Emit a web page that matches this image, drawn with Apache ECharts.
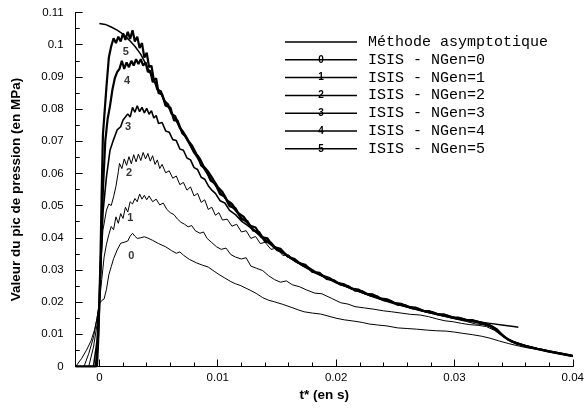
<!DOCTYPE html>
<html>
<head>
<meta charset="utf-8">
<script src="https://cdn.jsdelivr.net/npm/echarts@6/dist/echarts.min.js"></script>
<style>html,body{margin:0;padding:0;background:#fff}#c{width:587px;height:408px}</style>
</head>
<body>
<div id="c"></div>
<script>
// ---------- data ----------
const seriesNames = ['Méthode asymptotique','ISIS - NGen=0','ISIS - NGen=1','ISIS - NGen=2','ISIS - NGen=3','ISIS - NGen=4','ISIS - NGen=5'];

const asymptotic = [[0.0000,0.1066],[0.0005,0.1063],[0.001,0.1055],[0.0015,0.1045],[0.002,0.1033],[0.0025,0.1015],[0.003,0.0995],[0.0035,0.097],[0.004,0.0935],[0.0045,0.0895],[0.005,0.086],[0.006,0.0795],[0.007,0.073],[0.008,0.0665],[0.009,0.0605],[0.01,0.0552],[0.011,0.0505],[0.012,0.0463],[0.013,0.0427],[0.014,0.0396],[0.015,0.0367],[0.016,0.034],[0.017,0.0317],[0.018,0.0296],[0.019,0.0278],[0.02,0.0262],[0.021,0.0247],[0.022,0.0233],[0.023,0.022],[0.024,0.0208],[0.025,0.0197],[0.026,0.0187],[0.027,0.0177],[0.028,0.0168],[0.029,0.016],[0.03,0.0152],[0.031,0.0145],[0.032,0.0139],[0.033,0.0134],[0.034,0.0129],[0.035,0.0124],[0.0354,0.0122]];

const ngen0 = [[-0.002,0],[-0.0019,0],[-0.0015,0.0025],[-0.0011,0.005],[-0.0007,0.008],[-0.0004,0.0115],[-0.0002,0.015],[0,0.0195],[0.0002,0.0205],[0.0004,0.021],[0.0006,0.024],[0.0008,0.0285],[0.001,0.031],[0.0012,0.0335],[0.0015,0.0362],[0.0018,0.0383],[0.0021,0.0386],[0.0024,0.039],[0.0026,0.0405],[0.0028,0.0414],[0.003,0.0405],[0.0032,0.0398],[0.0035,0.04],[0.0038,0.0403],[0.0041,0.0399],[0.0045,0.0392],[0.005,0.0382],[0.0056,0.0372],[0.0061,0.036],[0.0065,0.0352],[0.0068,0.0356],[0.0071,0.0346],[0.0076,0.0333],[0.0082,0.0322],[0.0087,0.0315],[0.0092,0.0309],[0.0097,0.0296],[0.0101,0.0286],[0.0106,0.0275],[0.0111,0.0264],[0.0115,0.0257],[0.0119,0.0252],[0.0124,0.0243],[0.0128,0.0236],[0.0133,0.0226],[0.0138,0.0214],[0.0143,0.0206],[0.0148,0.0201],[0.0155,0.0193],[0.0162,0.0184],[0.0168,0.0176],[0.0173,0.017],[0.018,0.0166],[0.0187,0.0163],[0.0194,0.0156],[0.02,0.015],[0.0207,0.0145],[0.0215,0.0141],[0.0222,0.0137],[0.0228,0.0132],[0.0235,0.0129],[0.0243,0.0126],[0.0252,0.012],[0.026,0.0118],[0.0268,0.0116],[0.0277,0.0113],[0.0285,0.0111],[0.0293,0.011],[0.03,0.0107],[0.0307,0.0103],[0.0315,0.0099],[0.0323,0.0094],[0.033,0.0088],[0.0338,0.0079],[0.0346,0.0071],[0.0355,0.0063],[0.0363,0.0057],[0.0372,0.0052],[0.0381,0.0045],[0.039,0.0039],[0.04,0.0032]];

const ngen1 = [[-0.002,0],[-0.0013,0],[-0.0009,0.004],[-0.0005,0.009],[-0.0002,0.015],[0,0.02],[0.0002,0.027],[0.0004,0.034],[0.0006,0.038],[0.0008,0.041],[0.001,0.0435],[0.0012,0.0425],[0.0014,0.0465],[0.0016,0.0445],[0.0018,0.0475],[0.002,0.046],[0.0022,0.0495],[0.0024,0.048],[0.0026,0.0512],[0.0028,0.0505],[0.003,0.0522],[0.0032,0.0512],[0.0034,0.0536],[0.0036,0.052],[0.0038,0.0532],[0.004,0.0518],[0.0042,0.053],[0.0045,0.0512],[0.0048,0.052],[0.0051,0.0502],[0.0054,0.0508],[0.0057,0.0488],[0.006,0.0478],[0.0063,0.0472],[0.0066,0.0458],[0.0069,0.0448],[0.0072,0.0442],[0.0075,0.0434],[0.0078,0.0438],[0.0081,0.0422],[0.0085,0.0414],[0.0088,0.0418],[0.0091,0.0398],[0.0095,0.0385],[0.0099,0.0372],[0.0103,0.0364],[0.0107,0.0368],[0.0111,0.0348],[0.0115,0.034],[0.012,0.0334],[0.0124,0.0338],[0.0128,0.0312],[0.0133,0.0305],[0.0138,0.0298],[0.0143,0.0282],[0.0148,0.027],[0.0153,0.0262],[0.0158,0.0266],[0.0163,0.0254],[0.0169,0.0248],[0.0175,0.0238],[0.0182,0.0228],[0.0188,0.0226],[0.0196,0.0212],[0.0204,0.0198],[0.021,0.0194],[0.0216,0.0186],[0.0224,0.0182],[0.0232,0.0178],[0.024,0.0173],[0.0247,0.017],[0.0255,0.0166],[0.0263,0.0162],[0.0271,0.016],[0.0278,0.0155],[0.0285,0.0148],[0.0292,0.0142],[0.0299,0.0139],[0.0306,0.0134],[0.0313,0.013],[0.032,0.0128],[0.0327,0.0124],[0.0334,0.0112],[0.034,0.0095],[0.0346,0.0083],[0.0353,0.0073],[0.036,0.0065],[0.037,0.0056],[0.038,0.0047],[0.039,0.004],[0.04,0.0032]];

const ngen2 = [[-0.002,0],[-0.0009,0],[-0.0005,0.006],[-0.0002,0.013],[0,0.02],[0.0001,0.03],[0.0003,0.0424],[0.0006,0.0486],[0.0008,0.0505],[0.001,0.05],[0.0012,0.0527],[0.0014,0.056],[0.0016,0.0605],[0.0017,0.0631],[0.0019,0.0615],[0.0021,0.0645],[0.0023,0.0625],[0.0025,0.0652],[0.0027,0.063],[0.0029,0.0658],[0.0031,0.0636],[0.0033,0.066],[0.0035,0.064],[0.0037,0.0665],[0.0039,0.0645],[0.0041,0.0662],[0.0043,0.0638],[0.0045,0.0655],[0.0047,0.0628],[0.0049,0.0642],[0.0051,0.0615],[0.0053,0.0628],[0.0056,0.0602],[0.0059,0.0608],[0.0062,0.0585],[0.0065,0.0592],[0.0068,0.0565],[0.0071,0.0572],[0.0074,0.0548],[0.0077,0.0558],[0.008,0.053],[0.0083,0.0538],[0.0086,0.051],[0.0089,0.0518],[0.0092,0.0488],[0.0095,0.0495],[0.0098,0.047],[0.0101,0.0478],[0.0104,0.0455],[0.0108,0.0458],[0.0112,0.0436],[0.0116,0.0442],[0.012,0.0418],[0.0124,0.0422],[0.0128,0.0398],[0.0132,0.0404],[0.0136,0.0382],[0.014,0.0386],[0.0145,0.0364],[0.015,0.0368],[0.0155,0.0345],[0.016,0.0347],[0.0165,0.0326],[0.017,0.0322],[0.0176,0.0306],[0.0182,0.0292],[0.0188,0.0284],[0.0195,0.0271],[0.0202,0.0258],[0.021,0.0245],[0.022,0.0231],[0.023,0.0218],[0.024,0.0206],[0.025,0.0195],[0.026,0.0184],[0.027,0.0175],[0.028,0.0165],[0.029,0.0157],[0.03,0.0148],[0.031,0.014],[0.0318,0.0132],[0.0325,0.013],[0.033,0.0124],[0.0336,0.0108],[0.0342,0.0092],[0.0348,0.008],[0.0356,0.007],[0.0365,0.006],[0.0375,0.0051],[0.0387,0.0042],[0.04,0.0033]];

const ngen3 = [[-0.002,0],[-0.0005,0],[-0.0002,0.008],[0,0.02],[0.0001,0.03],[0.0003,0.0477],[0.0006,0.059],[0.0009,0.0672],[0.0012,0.0705],[0.0015,0.0735],[0.0018,0.0745],[0.002,0.0766],[0.0022,0.0775],[0.0024,0.0785],[0.0026,0.0775],[0.0028,0.0805],[0.003,0.079],[0.0032,0.081],[0.0034,0.0792],[0.0036,0.0805],[0.0038,0.0788],[0.004,0.0802],[0.0042,0.0784],[0.0044,0.0795],[0.0046,0.0772],[0.0048,0.078],[0.005,0.0755],[0.0053,0.0758],[0.0056,0.0732],[0.0059,0.0728],[0.0062,0.0705],[0.0065,0.0702],[0.0068,0.0676],[0.0071,0.0672],[0.0074,0.0648],[0.0077,0.0642],[0.008,0.0618],[0.0083,0.0612],[0.0086,0.0588],[0.0089,0.0582],[0.0092,0.0562],[0.0095,0.0548],[0.0098,0.0538],[0.0102,0.0515],[0.0106,0.0508],[0.011,0.0485],[0.0115,0.0472],[0.012,0.0452],[0.0126,0.0436],[0.0132,0.0418],[0.0138,0.0398],[0.0145,0.0378],[0.0152,0.0362],[0.016,0.034],[0.0168,0.0322],[0.0176,0.0305],[0.0184,0.0288],[0.0192,0.0275],[0.02,0.026],[0.021,0.0246],[0.022,0.0232],[0.023,0.0218],[0.024,0.0206],[0.025,0.0194],[0.026,0.0185],[0.027,0.0175],[0.028,0.0166],[0.029,0.0158],[0.03,0.015],[0.031,0.0143],[0.032,0.0136],[0.033,0.0124],[0.0335,0.0114],[0.034,0.0099],[0.0345,0.0086],[0.035,0.0077],[0.036,0.0065],[0.037,0.0056],[0.038,0.0048],[0.039,0.0041],[0.04,0.0033]];

const ngen4 = [[-0.002,0],[-0.0003,0],[-0.0001,0.01],[0.0001,0.03],[0.0003,0.055],[0.0005,0.07],[0.0007,0.077],[0.0009,0.081],[0.0011,0.086],[0.0013,0.0895],[0.0015,0.0915],[0.0017,0.0925],[0.0019,0.095],[0.0021,0.0925],[0.0023,0.0945],[0.0025,0.093],[0.0027,0.095],[0.0029,0.0935],[0.0031,0.0955],[0.0033,0.094],[0.0035,0.0955],[0.0037,0.0935],[0.0039,0.0945],[0.0041,0.0915],[0.0043,0.092],[0.0045,0.0885],[0.0047,0.0885],[0.0049,0.086],[0.0052,0.0855],[0.0055,0.0825],[0.0058,0.0815],[0.0061,0.0785],[0.0064,0.0778],[0.0068,0.0742],[0.0071,0.0728],[0.0075,0.0702],[0.0078,0.0688],[0.0082,0.066],[0.0085,0.0645],[0.0088,0.0622],[0.0092,0.0605],[0.0096,0.0582],[0.01,0.0558],[0.0104,0.0542],[0.0108,0.0516],[0.0112,0.0505],[0.0117,0.0478],[0.0122,0.0465],[0.0127,0.0438],[0.0132,0.0432],[0.0137,0.0402],[0.0142,0.0398],[0.0147,0.0372],[0.0153,0.0366],[0.0159,0.0342],[0.0165,0.0334],[0.0171,0.0316],[0.0177,0.0306],[0.0183,0.0292],[0.0189,0.0282],[0.0195,0.0274],[0.0201,0.026],[0.0207,0.0255],[0.0213,0.0242],[0.0219,0.0239],[0.0225,0.0226],[0.0231,0.0224],[0.0237,0.0212],[0.0243,0.0209],[0.0249,0.0198],[0.0255,0.0195],[0.0261,0.0185],[0.0267,0.0183],[0.0273,0.0173],[0.0279,0.0172],[0.0285,0.0163],[0.0291,0.0162],[0.0297,0.0153],[0.0303,0.0152],[0.0309,0.0145],[0.0315,0.0144],[0.0321,0.0137],[0.0327,0.0132],[0.0333,0.0121],[0.0339,0.0102],[0.0345,0.0084],[0.0352,0.0072],[0.036,0.0063],[0.0368,0.0056],[0.0378,0.0048],[0.0389,0.004],[0.04,0.0032]];

const ngen5 = [[-0.002,0],[-0.0002,0],[-0.0001,0.008],[0,0.02],[0.0001,0.035],[0.0002,0.055],[0.0003,0.072],[0.0005,0.082],[0.0006,0.087],[0.0008,0.096],[0.001,0.0995],[0.0012,0.102],[0.0014,0.1005],[0.0016,0.1025],[0.0018,0.101],[0.002,0.1035],[0.0022,0.1015],[0.0024,0.104],[0.0026,0.1018],[0.0028,0.1045],[0.003,0.101],[0.0032,0.1025],[0.0034,0.099],[0.0036,0.1005],[0.0038,0.096],[0.004,0.0975],[0.0042,0.093],[0.0044,0.0935],[0.0046,0.089],[0.0048,0.0895],[0.005,0.085],[0.0053,0.0845],[0.0056,0.081],[0.006,0.0805],[0.0063,0.0765],[0.0066,0.0765],[0.007,0.0725],[0.0073,0.0715],[0.0076,0.0695],[0.008,0.0665],[0.0083,0.0655],[0.0086,0.0625],[0.009,0.0612],[0.0094,0.0578],[0.0098,0.0568],[0.0102,0.0535],[0.0106,0.0528],[0.011,0.0498],[0.0115,0.0492],[0.012,0.0458],[0.0125,0.0452],[0.013,0.0422],[0.0135,0.0418],[0.014,0.0388],[0.0145,0.0385],[0.015,0.0362],[0.0156,0.0352],[0.0162,0.0336],[0.0168,0.0322],[0.0174,0.0316],[0.018,0.0294],[0.0186,0.0291],[0.0192,0.0272],[0.0198,0.0268],[0.0204,0.0254],[0.021,0.025],[0.0216,0.0236],[0.0222,0.0234],[0.0228,0.0222],[0.0234,0.0219],[0.024,0.0206],[0.0246,0.0204],[0.0252,0.0192],[0.0258,0.0191],[0.0264,0.0181],[0.027,0.0179],[0.0276,0.017],[0.0282,0.0168],[0.0288,0.016],[0.0294,0.0158],[0.03,0.0151],[0.0306,0.0149],[0.0312,0.0143],[0.0318,0.0141],[0.0324,0.0135],[0.033,0.0128],[0.0336,0.0115],[0.0342,0.0092],[0.0348,0.0078],[0.0355,0.0069],[0.0362,0.0062],[0.037,0.0055],[0.038,0.0047],[0.039,0.004],[0.04,0.0033]];

const curveLabelText = ['0','1','2','3','4','5'];
const curveLabelPos = [[0.0027,0.0343],[0.00262,0.046],[0.0025,0.060],[0.00242,0.0743],[0.00234,0.0887],[0.00223,0.0978]];

const xLabelValues = [0, 0.01, 0.02, 0.03, 0.04];
const xMinorTickValues = [-0.002,0,0.002,0.004,0.006,0.008,0.01,0.012,0.014,0.016,0.018,0.02,0.022,0.024,0.026,0.028,0.03,0.032,0.034,0.036,0.038,0.04];

// ---------- chart ----------
const chart = echarts.init(document.getElementById('c'), null, {renderer:'canvas'});
const seriesData = [asymptotic, ngen0, ngen1, ngen2, ngen3, ngen4, ngen5];
const widths = [1.5, 1, 1, 1, 1.6, 2.2, 2.2];

const series = seriesData.map((d, i) => ({
  name: seriesNames[i],
  type: 'line',
  data: d,
  symbol: 'none',
  showSymbol: false,
  z: i === 0 ? 10 : 2 + i,
  lineStyle: {color: '#000', width: widths[i]},
  itemStyle: {color: '#000'},
  animation: false
}));

series.push({
  name: 'labels',
  type: 'scatter',
  symbolSize: 0,
  data: curveLabelPos.map((p, i) => ({value: p, name: curveLabelText[i]})),
  label: {show: true, position: 'inside', formatter: p => p.name, color: '#000',
          fontFamily: 'Liberation Sans', fontWeight: 'bold', fontSize: 11},
  z: 20,
  silent: true,
  animation: false
});

// legend geometry: thin line icon, text centred on it (first line at y ~ 42)
const legendTop = 34, rowPitch = 17.8, lineOffset = 8;
const graphics = curveLabelText.map((t, i) => ({
  type: 'text',
  x: 321, y: legendTop + lineOffset + rowPitch * (i + 1),
  style: {text: t, fill: '#000', font: 'bold 10px "Liberation Sans"', align: 'center', verticalAlign: 'middle'},
  z: 100
}));

chart.setOption({
  backgroundColor: '#fff',
  animation: false,
  grid: {left: 75.7, right: 11.5, top: 12.5, bottom: 41.5},
  legend: {
    data: seriesNames,
    orient: 'vertical',
    left: 285, top: legendTop, padding: 0,
    itemWidth: 72, itemHeight: 1.5, itemGap: 1.8,
    icon: 'rect',
    itemStyle: {color: '#000'},
    textStyle: {fontFamily: '"Liberation Mono", monospace', fontSize: 15, color: '#000', lineHeight: 14, padding: [2,0,0,6]},
    selectedMode: false
  },
  xAxis: [{
    type: 'value', min: -0.002, max: 0.04,
    name: 't* (en s)', nameLocation: 'middle', nameGap: 22,
    nameTextStyle: {fontFamily: 'Liberation Sans', fontWeight: 'bold', fontSize: 13.5, color: '#000'},
    axisLine: {onZero: false, lineStyle: {color: '#000', width: 1}},
    axisTick: {inside: true, length: 7, customValues: xLabelValues, lineStyle: {color: '#000'}},
    axisLabel: {customValues: xLabelValues, margin: 5, fontFamily: 'Liberation Sans', fontSize: 11.5, color: '#000',
                formatter: v => String(Math.round(v * 1000) / 1000)},
    splitLine: {show: false}
  }, {
    type: 'value', min: -0.002, max: 0.04, position: 'bottom',
    axisLine: {show: false},
    axisTick: {inside: true, length: 4, customValues: xMinorTickValues, lineStyle: {color: '#000'}},
    axisLabel: {show: false},
    splitLine: {show: false}
  }],
  yAxis: {
    type: 'value', min: 0, max: 0.11, interval: 0.01,
    name: 'Valeur du pic de pression (en MPa)', nameLocation: 'middle', nameGap: 52,
    nameTextStyle: {fontFamily: 'Liberation Sans', fontWeight: 'bold', fontSize: 13.5, color: '#000'},
    axisLine: {onZero: false, lineStyle: {color: '#000', width: 1}},
    axisTick: {inside: true, length: 7, lineStyle: {color: '#000'}},
    minorTick: {show: true, splitNumber: 2, length: 4, lineStyle: {color: '#000'}},
    axisLabel: {margin: 12, fontFamily: 'Liberation Sans', fontSize: 11.5, color: '#000',
                formatter: v => String(Math.round(v * 1000) / 1000)},
    splitLine: {show: false}
  },
  series: series,
  graphic: graphics
});
</script>
</body>
</html>
